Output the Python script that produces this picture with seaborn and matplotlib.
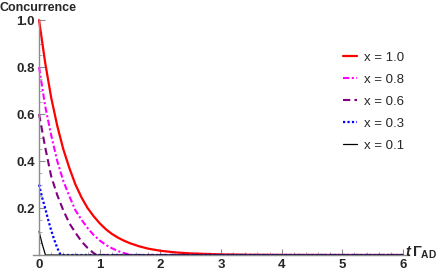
import numpy as np
import matplotlib
matplotlib.use("Agg")
import matplotlib.pyplot as plt
import seaborn as sns
from matplotlib.ticker import MultipleLocator

# valores
t_10 = [0, 0.1, 0.2, 0.3, 0.4, 0.5, 0.6, 0.7, 0.8, 0.9, 1.0, 1.1, 1.2, 1.3, 1.4, 1.5, 1.65, 1.8, 2.0, 2.25, 2.5, 3.0, 3.5, 4.0, 5.0, 6.0]
c_10 = [1.0, 0.82, 0.67, 0.55, 0.45, 0.37, 0.30, 0.245, 0.20, 0.165, 0.135, 0.11, 0.09, 0.074, 0.061, 0.05, 0.037, 0.027, 0.018, 0.011, 0.0067, 0.0025, 0.0009, 0.0003, 0.0, 0.0]

t_08 = [0, 0.1, 0.2, 0.3, 0.4, 0.5, 0.6, 0.7, 0.8, 0.9, 1.0, 1.1, 1.2, 1.3, 1.4, 1.5, 1.55, 6.0]
c_08 = [0.80, 0.635, 0.51, 0.40, 0.315, 0.25, 0.19, 0.15, 0.115, 0.085, 0.062, 0.043, 0.029, 0.017, 0.008, 0.001, 0.0, 0.0]

t_06 = [0, 0.1, 0.2, 0.3, 0.4, 0.5, 0.6, 0.7, 0.8, 0.9, 0.95, 6.0]
c_06 = [0.60, 0.46, 0.335, 0.255, 0.19, 0.135, 0.095, 0.058, 0.030, 0.008, 0.0, 0.0]

t_03 = [0, 0.05, 0.1, 0.15, 0.2, 0.25, 0.3, 0.35, 0.36, 6.0]
c_03 = [0.30, 0.245, 0.20, 0.15, 0.105, 0.065, 0.03, 0.003, 0.0, 0.0]

t_01 = [0, 0.05, 0.1, 0.105, 6.0]
c_01 = [0.10, 0.048, 0.005, 0.0, 0.0]

rotulos = ["x = 1.0", "x = 0.8", "x = 0.6", "x = 0.3", "x = 0.1"]
cores = ["#ff0000", "#ff00ff", "#800080", "#0000ff", "#000000"]
estilos = ["-", (0, (3, 1.2, 1, 1.2)), (0, (3.5, 2)), (0, (1, 1)), "-"]
larguras = [1.6, 1.5, 1.5, 1.6, 0.9]

sns.set_style("ticks")
plt.rcParams["font.family"] = ["Liberation Sans", "DejaVu Sans"]
plt.rcParams["mathtext.fontset"] = "custom"
plt.rcParams["mathtext.rm"] = "Liberation Sans:bold"
plt.rcParams["mathtext.it"] = "Liberation Sans:bold:italic"
plt.rcParams["mathtext.bf"] = "Liberation Sans:bold"

fig = plt.figure(figsize=(4.47, 2.73), dpi=100)
ax = fig.add_axes([33 / 447, 1 - 255 / 273, (409 - 33) / 447, (255 - 19) / 273])

series = [(t_10, c_10), (t_08, c_08), (t_06, c_06), (t_03, c_03), (t_01, c_01)]
for (t, c), rot, cor, est, lw in zip(series, rotulos, cores, estilos, larguras):
    sns.lineplot(x=t, y=c, ax=ax, color=cor, linestyle=est, linewidth=lw, label=rot)

ax.set_xlim(-0.1, 6.1)
ax.set_ylim(0, 1.005)
ax.spines["left"].set_position(("data", 0))
ax.spines["top"].set_visible(False)
ax.spines["right"].set_visible(False)
for s in ["left", "bottom"]:
    ax.spines[s].set_color("#8c8c8c")
    ax.spines[s].set_linewidth(1.0)

ax.set_xticks([0, 1, 2, 3, 4, 5, 6])
ax.set_yticks([0.2, 0.4, 0.6, 0.8, 1.0])
ax.set_yticklabels(["0.2", "0.4", "0.6", "0.8", "1.0"])
ax.xaxis.set_minor_locator(MultipleLocator(0.2))
ax.yaxis.set_minor_locator(MultipleLocator(0.05))
ax.tick_params(which="major", direction="in", length=4, width=0.8, color="#8c8c8c", labelsize=9.5, pad=3)
ax.tick_params(which="minor", direction="in", length=2, width=0.6, color="#a0a0a0")
for lab in ax.get_xticklabels() + ax.get_yticklabels():
    lab.set_fontweight("bold")

ax.set_xlabel("")
ax.set_ylabel("")
fig.text(0 / 447, 1 - 8 / 273, "Concurrence", fontsize=9, fontweight="bold", va="center", ha="left")
fig.text(405 / 447, 1 - 253 / 273, r"$t\,\Gamma_{\mathrm{AD}}$", fontsize=10.5, va="center", ha="left")

leg = ax.legend(loc="upper left", bbox_to_anchor=(0.792, 0.913), frameon=False, fontsize=9.5,
                handlelength=1.1, handletextpad=0.55, labelspacing=0.74)

fig.savefig("out.png", dpi=100)
